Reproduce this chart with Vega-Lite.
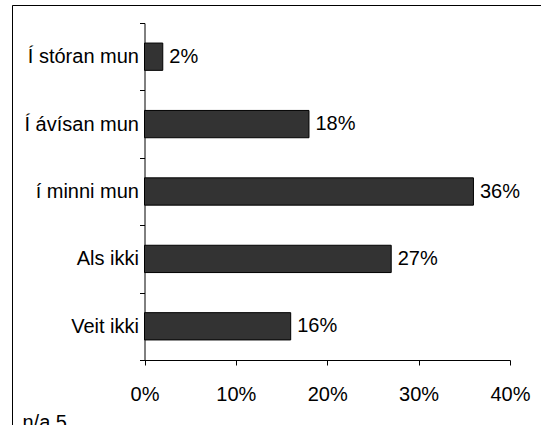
{
  "$schema": "https://vega.github.io/schema/vega-lite/v6.json",
  "autosize": "none",
  "padding": {"left": 12, "top": 5, "right": 0, "bottom": 0},
  "width": 529,
  "height": 420,
  "background": "white",
  "view": {"stroke": "black", "strokeWidth": 1, "strokeDash": [529, 949, 421], "fill": "white"},
  "title": {
    "text": "n/a 5",
    "orient": "bottom",
    "anchor": "start",
    "frame": "group",
    "offset": -12,
    "dx": 10.5,
    "fontSize": 20,
    "font": "Liberation Sans",
    "fontWeight": "normal",
    "color": "black"
  },
  "config": {"font": "Liberation Sans"},
  "data": {
    "values": [
      {"answer": "Í stóran mun", "pct": 0.02},
      {"answer": "Í ávísan mun", "pct": 0.18},
      {"answer": "í minni mun ", "pct": 0.36},
      {"answer": "Als ikki", "pct": 0.27},
      {"answer": "Veit ikki", "pct": 0.16}
    ]
  },
  "encoding": {
    "y": {
      "field": "answer",
      "type": "nominal",
      "sort": null,
      "scale": {"range": [18, 355], "paddingInner": 0, "paddingOuter": 0},
      "axis": {
        "title": null,
        "offset": -132.5,
        "tickBand": "extent",
        "tickSize": 5,
        "labelPadding": 1,
        "labelFontSize": 20,
        "labelColor": "black",
        "labelFont": "Liberation Sans",
        "domainColor": "black",
        "tickColor": "black",
        "grid": false,
        "labelLimit": 300
      }
    },
    "x": {
      "field": "pct",
      "type": "quantitative",
      "scale": {"domain": [0, 0.4], "range": [132.5, 498], "nice": false},
      "axis": {
        "title": null,
        "values": [0, 0.1, 0.2, 0.3, 0.4],
        "format": ".0%",
        "offset": -65,
        "tickSize": 5,
        "labelPadding": 19,
        "labelFlush": false,
        "labelOverlap": false,
        "labelFontSize": 20,
        "labelColor": "black",
        "labelFont": "Liberation Sans",
        "domainColor": "black",
        "tickColor": "black",
        "grid": false
      }
    }
  },
  "layer": [
    {
      "mark": {"type": "bar", "fill": "#333333", "stroke": "black", "strokeWidth": 1, "height": {"band": 0.405}}
    },
    {
      "mark": {"type": "text", "align": "left", "baseline": "middle", "dx": 6.5, "fontSize": 20, "font": "Liberation Sans", "color": "black"},
      "encoding": {"text": {"field": "pct", "type": "quantitative", "format": ".0%"}}
    }
  ]
}
